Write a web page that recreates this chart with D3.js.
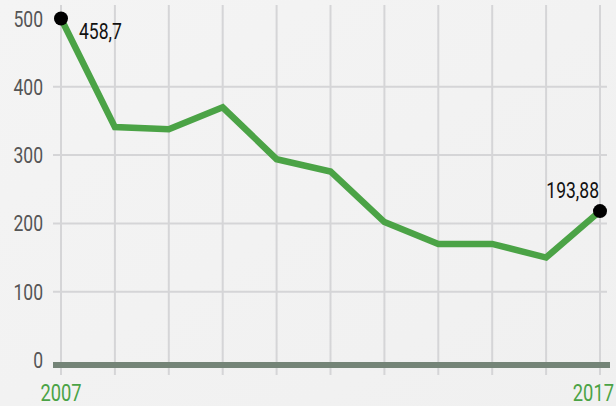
<!DOCTYPE html>
<html><head><meta charset="utf-8">
<script src="https://cdn.jsdelivr.net/npm/d3@7/dist/d3.min.js"></script>
<style>
html,body{margin:0;padding:0;background:#f2f2f2;}
svg{display:block;}
text{font-family:Roboto,"Noto Sans",sans-serif;}
</style></head>
<body>
<svg id="c" width="616" height="406"></svg>
<script>
const years = [2007,2008,2009,2010,2011,2012,2013,2014,2015,2016,2017];
const values = [500,341,338,370,294,276,202,170,170,150,218];
const yTicks = [0,100,200,300,400,500];
const xLabels = [2007,2017];
const pointLabels = [{i:0,text:"458,7"},{i:10,text:"193,88"}];

const svg = d3.select("#c");
const x = d3.scalePoint().domain(years).range([61,600]);
const y = d3.scaleLinear().domain([0,500]).range([360,18.5]);
const SX = 0.78;

function label(g, tx, ty, txt, anchor, size, fill) {
  return g.append("text")
    .attr("transform", `translate(${tx},${ty}) scale(${SX},1)`)
    .attr("text-anchor", anchor).attr("font-size", size).attr("fill", fill).text(txt);
}

const bg = svg.append("defs").append("linearGradient").attr("id","bg").attr("x1",0).attr("y1",0).attr("x2",1).attr("y2",1);
bg.append("stop").attr("offset","0%").attr("stop-color","#f4f4f4");
bg.append("stop").attr("offset","100%").attr("stop-color","#f0f0f0");
svg.append("rect").attr("width",616).attr("height",406).attr("fill","url(#bg)");

// vertical grid
svg.append("g").selectAll("line").data(years).join("line")
  .attr("x1",d=>x(d)).attr("x2",d=>x(d)).attr("y1",5).attr("y2",375)
  .attr("stroke","#d5d5d7").attr("stroke-width",2);
// horizontal grid
svg.append("g").selectAll("line").data(yTicks.filter(t=>t>0&&t<500)).join("line")
  .attr("x1",53).attr("x2",607).attr("y1",d=>y(d)).attr("y2",d=>y(d))
  .attr("stroke","#d5d5d7").attr("stroke-width",2);
// axis bar
svg.append("rect").attr("x",53).attr("y",y(0)+2).attr("width",557).attr("height",6).attr("fill","#748477");

// y labels
const gy = svg.append("g");
yTicks.forEach(t => label(gy, 43, y(t)+8, t, "end", 22.5, "#555"));

// x labels
const gx = svg.append("g");
label(gx, x(xLabels[0]), 401, xLabels[0], "middle", 23.5, "#4ba346");
label(gx, 614, 401, xLabels[1], "end", 23.5, "#4ba346");

// line
const line = d3.line().x((d,i)=>x(years[i])).y(d=>y(d));
svg.append("path").datum(values).attr("d",line).attr("fill","none")
  .attr("stroke","#4ba346").attr("stroke-width",6.5).attr("stroke-linejoin","miter");

// end points
svg.append("g").selectAll("circle").data(pointLabels).join("circle")
  .attr("cx",d=>x(years[d.i])).attr("cy",d=>y(values[d.i])).attr("r",7).attr("fill","#000");

const gl = svg.append("g");
label(gl, x(years[0])+18, y(values[0])+20, pointLabels[0].text, "start", 22.5, "#111");
label(gl, x(years[10])-1, y(values[10])-13, pointLabels[1].text, "end", 22.5, "#111");
</script>
</body></html>
